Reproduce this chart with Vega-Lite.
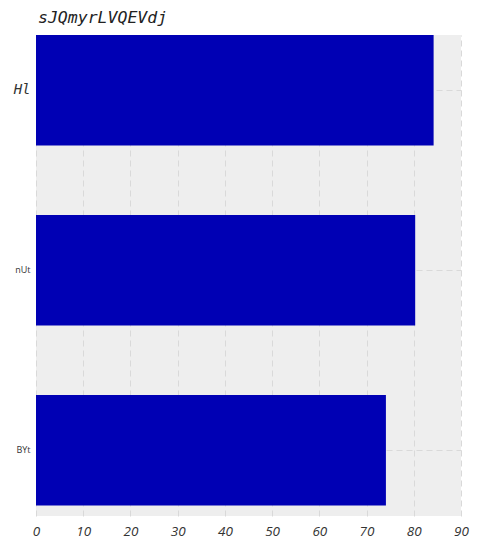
{
  "$schema": "https://vega.github.io/schema/vega-lite/v6.json",
  "width": 425,
  "height": 481,
  "autosize": {"type": "none"},
  "padding": {"left": 36, "top": 35, "right": 22, "bottom": 36},
  "background": "white",
  "title": {
    "text": "sJQmyrLVQEVdj",
    "anchor": "start",
    "frame": "group",
    "font": "DejaVu Sans Mono",
    "fontStyle": "italic",
    "fontWeight": "normal",
    "fontSize": 16.5,
    "color": "#222222",
    "offset": 9,
    "dx": 2
  },
  "data": {
    "values": [
      {"category": "Hl", "value": 84.2},
      {"category": "nUt", "value": 80.3},
      {"category": "BYt", "value": 74.1}
    ]
  },
  "config": {
    "view": {"fill": "#eeeeee", "stroke": null},
    "axis": {"domain": false, "grid": true, "gridColor": "#d9d9d9", "gridDash": [6, 4], "gridWidth": 1}
  },
  "mark": {"type": "bar", "color": "#0000b4"},
  "encoding": {
    "y": {
      "field": "category",
      "type": "nominal",
      "sort": null,
      "scale": {"paddingInner": 0.386, "paddingOuter": 0.029, "align": 0},
      "axis": {
        "title": null,
        "ticks": false,
        "labelPadding": 6,
        "labelColor": "#333333",
        "labelFont": {"condition": {"test": "datum.value == 'Hl'", "value": "DejaVu Sans Mono"}, "value": "Open Sans"},
        "labelFontSize": {"condition": {"test": "datum.value == 'Hl'", "value": 14}, "value": 9},
        "labelFontStyle": {"condition": {"test": "datum.value == 'Hl'", "value": "italic"}, "value": "normal"}
      }
    },
    "x": {
      "field": "value",
      "type": "quantitative",
      "scale": {"domain": [0, 90], "nice": false},
      "axis": {
        "title": null,
        "values": [0, 10, 20, 30, 40, 50, 60, 70, 80, 90],
        "ticks": false,
        "labelFlush": false,
        "labelPadding": 8,
        "labelFont": "Open Sans",
        "labelFontStyle": "italic",
        "labelFontSize": 13.5,
        "labelColor": "#333333"
      }
    }
  }
}
